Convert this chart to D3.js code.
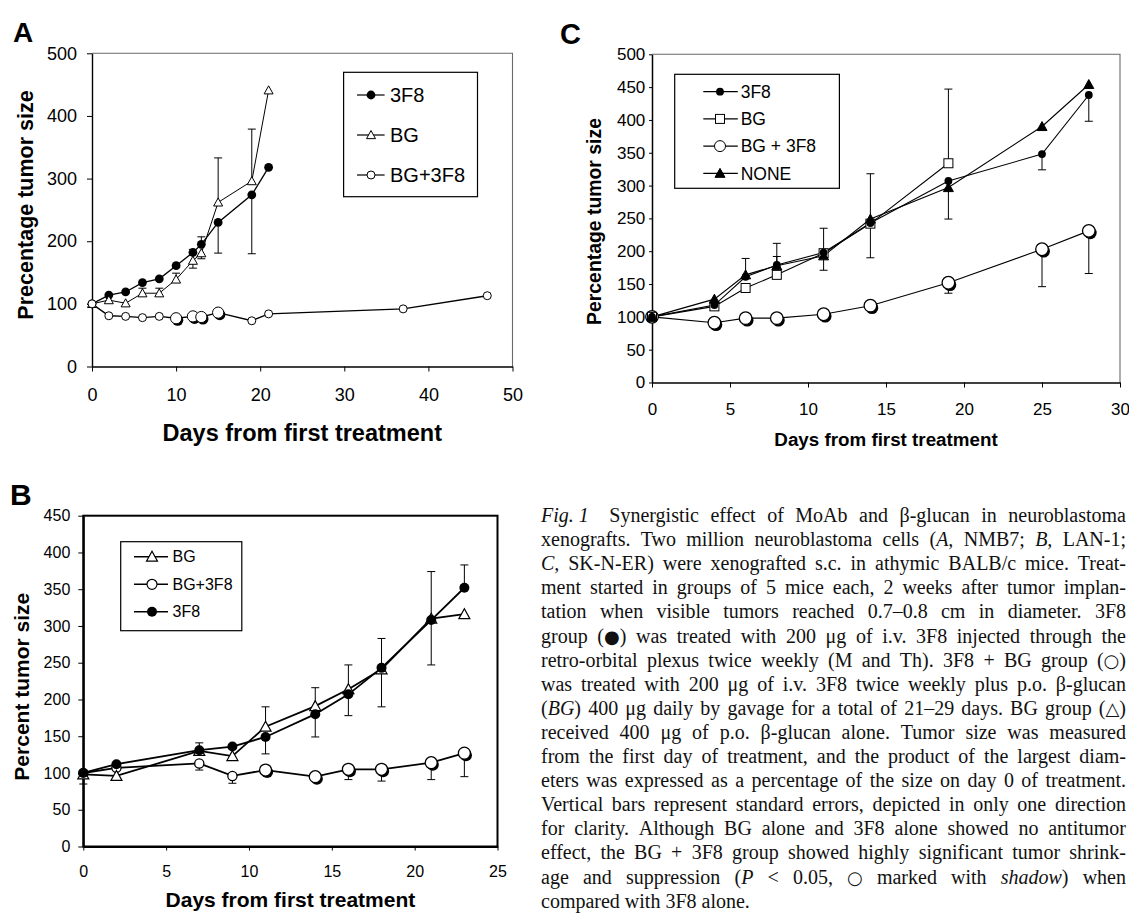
<!DOCTYPE html>
<html><head><meta charset="utf-8">
<script src="https://cdn.jsdelivr.net/npm/d3@7"></script>
<style>body{margin:0;background:#fff}svg{display:block}</style>
</head><body>
<svg id="fig" width="1129" height="913"></svg>
<script>
// ---------------- DATA ----------------
// Panel A (NMB7)
const xTicksA = [0, 10, 20, 30, 40, 50];
const yTicksA = [0, 100, 200, 300, 400, 500];
const daysA = [0, 2, 4, 6, 8, 10, 12, 13, 15, 19, 21];
const a3F8 = [100, 114, 119, 134, 140, 161, 182, 195, 230, 274, 318];
const a3F8Err = [null, null, null, null, null, null, 187, 207, 181, 180, null];
const aBG = [100, 106, 101, 117, 117, 139, 169, 181, 262, 296, 441];
const aBGErr = [null, null, null, 125, 125, 149, 157, 172, 333, 379, null];
const daysAcombo = [0, 2, 4, 6, 8, 10, 12, 13, 15, 19, 21, 37, 47];
const aCombo = [100, 81, 80, 78, 80, 77, 80, 79, 86, 73, 84, 92, 113];
const aComboShadow = [0, 0, 0, 0, 0, 1, 1, 1, 1, 0, 0, 0, 0];

// Panel B (LAN-1)
const xTicksB = [0, 5, 10, 15, 20, 25];
const yTicksB = [0, 50, 100, 150, 200, 250, 300, 350, 400, 450];
const daysB = [0, 2, 7, 9, 11, 14, 16, 18, 21, 23];
const bBG = [98, 96, 130, 123, 163, 191, 214, 241, 310, 316];
const bBGErr = [85, null, null, null, 190, 216, 247, 283, 374, null];
const b3F8 = [100, 112, 131, 136, 149, 180, 207, 243, 308, 352];
const b3F8Err = [null, null, 141, null, 126, 149, 178, 190, 247, 383];
const bCombo = [100, 107, 113, 96, 104, 95, 105, 105, 114, 127];
const bComboErr = [null, null, 104, 86, null, null, 91, 89, 91, 95];
const bComboShadow = [0, 0, 0, 0, 1, 1, 1, 1, 1, 1];

// Panel C (SK-N-ER)
const xTicksC = [0, 5, 10, 15, 20, 25, 30];
const yTicksC = [0, 50, 100, 150, 200, 250, 300, 350, 400, 450, 500];
const daysC = [0, 4, 6, 8, 11, 14, 19, 25, 28];
const c3F8 = [100, 118, 161, 179, 198, 243, 307, 348, 438];
const c3F8Err = [null, null, null, 192, 235, 318, 249, 324, 398];
const daysCBG = [0, 4, 6, 8, 11, 14, 19];
const cBG = [100, 116, 144, 164, 197, 242, 334];
const cBGErr = [null, null, null, null, 171, 190, 447];
const cCombo = [100, 91, 98, 98, 104, 117, 152, 203, 231];
const cComboErr = [null, null, null, null, null, null, 136, 146, 166];
const cComboShadow = [0, 1, 1, 1, 1, 1, 1, 1, 1];
const cNone = [100, 127, 164, 178, 193, 249, 297, 390, 454];
const cNoneErr = [null, null, 189, 212, null, null, null, null, null];

// Caption
const captionLines = [
  "*Fig.\u00a01*  Synergistic effect of MoAb and β-glucan in neuroblastoma",
  "xenografts. Two million neuroblastoma cells (*A,* NMB7; *B,* LAN-1;",
  "*C,* SK-N-ER) were xenografted s.c. in athymic BALB/c mice. Treat-",
  "ment started in groups of 5 mice each, 2 weeks after tumor implan-",
  "tation when visible tumors reached 0.7–0.8 cm in diameter. 3F8",
  "group (●) was treated with 200 μg of i.v. 3F8 injected through the",
  "retro-orbital plexus twice weekly (M and Th). 3F8 + BG group (○)",
  "was treated with 200 μg of i.v. 3F8 twice weekly plus p.o. β-glucan",
  "(*BG*) 400 μg daily by gavage for a total of 21–29 days. BG group (△)",
  "received 400 μg of p.o. β-glucan alone. Tumor size was measured",
  "from the first day of treatment, and the product of the largest diam-",
  "eters was expressed as a percentage of the size on day 0 of treatment.",
  "Vertical bars represent standard errors, depicted in only one direction",
  "for clarity. Although BG alone and 3F8 alone showed no antitumor",
  "effect, the BG + 3F8 group showed highly significant tumor shrink-",
  "age and suppression (*P* < 0.05, ○ marked with *shadow*) when",
  "compared with 3F8 alone."
];

// ---------------- DRAWING ----------------
const SANS = '"Liberation Sans", Arial, sans-serif';
const SERIF = '"Liberation Serif", "Times New Roman", serif';
const SYM = '"DejaVu Sans", sans-serif';
const svg = d3.select('#fig');
svg.append('rect').attr('width', 1129).attr('height', 913).attr('fill', '#fff');

function makePanel(p) {
  const g = svg.append('g');
  const x = d3.scaleLinear().domain(p.xDomain).range([p.left, p.right]);
  const y = d3.scaleLinear().domain(p.yDomain).range([p.bottom, p.top]);
  if (p.frame === 'gray') {
    g.append('path').attr('d', `M${p.left},${p.top}H${p.right}V${p.bottom}`)
      .attr('fill', 'none').attr('stroke', '#6a6a6a').attr('stroke-width', 1.1);
  } else {
    g.append('rect').attr('x', p.left).attr('y', p.top)
      .attr('width', p.right - p.left).attr('height', p.bottom - p.top)
      .attr('fill', 'none').attr('stroke', '#000').attr('stroke-width', 2);
  }
  const xa = g.append('g').attr('transform', `translate(0,${p.bottom})`)
    .call(d3.axisBottom(x).tickValues(p.xTicks).tickFormat(d3.format('d'))
      .tickSize(p.xTickSize).tickSizeOuter(0).tickPadding(p.xPad));
  const ya = g.append('g').attr('transform', `translate(${p.left},0)`)
    .call(d3.axisLeft(y).tickValues(p.yTicks).tickFormat(d3.format('d'))
      .tickSize(p.yTickSize).tickSizeOuter(0).tickPadding(p.yPad));
  [xa, ya].forEach(a => {
    a.attr('font-family', SANS).attr('font-size', p.tickFont);
    a.selectAll('text').attr('fill', '#000');
    a.select('.domain').attr('stroke', '#000').attr('stroke-width', p.axisW);
    a.selectAll('.tick line').attr('stroke', '#000').attr('stroke-width', 1);
  });
  g.append('text').attr('x', (p.left + p.right) / 2).attr('y', p.xTitleY).attr('dy', '0.35em')
    .attr('text-anchor', 'middle').attr('font-family', SANS).attr('font-weight', 'bold')
    .attr('font-size', p.xTitleSize).text(p.xTitle);
  g.append('text').attr('transform', `translate(${p.yTitleX},${p.yTitleY}) rotate(-90)`)
    .attr('dy', '0.35em').attr('text-anchor', 'middle').attr('font-family', SANS)
    .attr('font-weight', 'bold').attr('font-size', p.yTitleSize).text(p.yTitle);
  svg.append('text').attr('x', p.labelX).attr('y', p.labelY).attr('font-family', SANS)
    .attr('font-weight', 'bold').attr('font-size', p.labelSize).text(p.label);
  return { g, x, y };
}

function marker(g, type, cx, cy, sz, shadow, sw) {
  if (type === 'dot') {
    g.append('circle').attr('cx', cx).attr('cy', cy).attr('r', sz).attr('fill', '#000');
  } else if (type === 'ring') {
    if (shadow) {
      g.append('circle').attr('cx', cx + 1.6).attr('cy', cy + 2).attr('r', sz).attr('fill', '#000');
    }
    g.append('circle').attr('cx', cx).attr('cy', cy).attr('r', sz).attr('fill', '#fff')
      .attr('stroke', '#000').attr('stroke-width', sw);
  } else if (type === 'tri' || type === 'triF') {
    const h = sz * 0.9;
    const pts = [[cx, cy - h * 0.55], [cx - sz / 2, cy + h * 0.45], [cx + sz / 2, cy + h * 0.45]];
    g.append('path').attr('d', 'M' + pts.map(p => p.join(',')).join('L') + 'Z')
      .attr('fill', type === 'triF' ? '#000' : '#fff').attr('stroke', '#000').attr('stroke-width', sw);
  } else if (type === 'sq') {
    g.append('rect').attr('x', cx - sz / 2).attr('y', cy - sz / 2).attr('width', sz).attr('height', sz)
      .attr('fill', '#fff').attr('stroke', '#000').attr('stroke-width', sw);
  }
}

function drawSeries(P, list, capW) {
  const { g, x, y } = P;
  const line = d3.line().x(d => x(d.d)).y(d => y(d.v));
  const prepared = list.map(s => s.days.map((d, i) => ({
    d, v: s.vals[i], e: s.errs ? s.errs[i] : null, sh: s.shadow ? s.shadow[i] : 0
  })));
  list.forEach((s, k) => {
    g.append('path').datum(prepared[k]).attr('d', line).attr('fill', 'none')
      .attr('stroke', '#000').attr('stroke-width', s.lw);
  });
  list.forEach((s, k) => {
    prepared[k].filter(p => p.e !== null && p.e !== undefined).forEach(p => {
      g.append('line').attr('x1', x(p.d)).attr('x2', x(p.d)).attr('y1', y(p.v)).attr('y2', y(p.e))
        .attr('stroke', '#000').attr('stroke-width', 1);
      g.append('line').attr('x1', x(p.d) - capW / 2).attr('x2', x(p.d) + capW / 2)
        .attr('y1', y(p.e)).attr('y2', y(p.e)).attr('stroke', '#000').attr('stroke-width', 1);
    });
  });
  list.forEach((s, k) => {
    prepared[k].forEach(p => {
      const sz = p.sh ? s.shadowSize : s.size;
      marker(g, s.marker, x(p.d), y(p.v), sz, p.sh, s.sw);
    });
  });
}

function legend(L) {
  const g = svg.append('g');
  g.append('rect').attr('x', L.x0).attr('y', L.y0).attr('width', L.x1 - L.x0).attr('height', L.y1 - L.y0)
    .attr('fill', '#fff').attr('stroke', '#000').attr('stroke-width', 1.2);
  L.entries.forEach((e, i) => {
    const yy = L.ys[i];
    g.append('line').attr('x1', L.lx0).attr('x2', L.lx1).attr('y1', yy).attr('y2', yy)
      .attr('stroke', '#000').attr('stroke-width', e.lw || 1.2);
    marker(g, e.marker, L.mx, yy, e.size, false, e.sw || 1);
    g.append('text').attr('x', L.tx).attr('y', yy).attr('dy', '0.36em').attr('font-family', SANS)
      .attr('font-size', L.font).text(e.label);
  });
}

// ---- Panel A ----
const PA = makePanel({
  xDomain: [0, 50], yDomain: [0, 500], left: 92, right: 512.5, top: 53.3, bottom: 366.5,
  frame: 'gray', xTicks: xTicksA, yTicks: yTicksA, xTickSize: 5, xPad: 17, yTickSize: 5, yPad: 10,
  tickFont: 18, axisW: 1.4, xTitle: 'Days from first treatment', xTitleY: 432.7, xTitleSize: 23.5,
  yTitle: 'Precentage tumor size', yTitleX: 25.5, yTitleY: 205, yTitleSize: 21.5,
  label: 'A', labelX: 13, labelY: 42, labelSize: 28
});
drawSeries(PA, [
  { days: daysA, vals: a3F8, errs: a3F8Err, marker: 'dot', size: 4.4, lw: 1.3, sw: 1 },
  { days: daysA, vals: aBG, errs: aBGErr, marker: 'tri', size: 9, lw: 1, sw: 1 },
  { days: daysAcombo, vals: aCombo, shadow: aComboShadow, marker: 'ring', size: 4, shadowSize: 5.6, lw: 1.4, sw: 1 }
], 8);
legend({
  x0: 343.6, x1: 477.5, y0: 72.3, y1: 196.7, lx0: 357, lx1: 384.6, mx: 371, tx: 390, font: 20,
  ys: [95, 135, 175],
  entries: [
    { label: '3F8', marker: 'dot', size: 4.4 },
    { label: 'BG', marker: 'tri', size: 9 },
    { label: 'BG+3F8', marker: 'ring', size: 4 }
  ]
});

// ---- Panel B ----
const PB = makePanel({
  xDomain: [0, 25], yDomain: [0, 450], left: 83.3, right: 497.5, top: 515.7, bottom: 846.5,
  frame: 'black', xTicks: xTicksB, yTicks: yTicksB, xTickSize: 4, xPad: 15.5, yTickSize: 5, yPad: 8,
  tickFont: 16, axisW: 2, xTitle: 'Days from first treatment', xTitleY: 900, xTitleSize: 21,
  yTitle: 'Percent tumor size', yTitleX: 22, yTitleY: 686.7, yTitleSize: 21,
  label: 'B', labelX: 10, labelY: 505, labelSize: 30
});
drawSeries(PB, [
  { days: daysB, vals: bCombo, errs: bComboErr, shadow: bComboShadow, marker: 'ring', size: 4.6, shadowSize: 6, lw: 1.8, sw: 1.3 },
  { days: daysB, vals: bBG, errs: bBGErr, marker: 'tri', size: 11, lw: 1.8, sw: 1.2 },
  { days: daysB, vals: b3F8, errs: b3F8Err, marker: 'dot', size: 5, lw: 1.8, sw: 1 }
], 8);
legend({
  x0: 120.7, x1: 241.8, y0: 541.7, y1: 630.7, lx0: 134, lx1: 168, mx: 152, tx: 172.5, font: 16,
  ys: [556.7, 584.3, 611.7],
  entries: [
    { label: 'BG', marker: 'tri', size: 11, lw: 1.6, sw: 1.2 },
    { label: 'BG+3F8', marker: 'ring', size: 5, lw: 1.6, sw: 1.2 },
    { label: '3F8', marker: 'dot', size: 5, lw: 1.6 }
  ]
});

// ---- Panel C ----
const PC = makePanel({
  xDomain: [0, 30], yDomain: [0, 500], left: 652, right: 1120, top: 54.3, bottom: 382.5,
  frame: 'gray', xTicks: xTicksC, yTicks: yTicksC, xTickSize: 5, xPad: 15, yTickSize: 3, yPad: 3.7,
  tickFont: 17, axisW: 1.5, xTitle: 'Days from first treatment', xTitleY: 439.3, xTitleSize: 18.8,
  yTitle: 'Percentage tumor size', yTitleX: 594.6, yTitleY: 221.5, yTitleSize: 19.4,
  label: 'C', labelX: 560, labelY: 44, labelSize: 29
});
drawSeries(PC, [
  { days: daysC, vals: cCombo, errs: cComboErr, shadow: cComboShadow, marker: 'ring', size: 6.3, shadowSize: 6.3, lw: 1.1, sw: 1.3 },
  { days: daysCBG, vals: cBG, errs: cBGErr, marker: 'sq', size: 9, lw: 1.1, sw: 1 },
  { days: daysC, vals: c3F8, errs: c3F8Err, marker: 'dot', size: 3.9, lw: 1.1, sw: 1 },
  { days: daysC, vals: cNone, errs: cNoneErr, marker: 'triF', size: 10, lw: 1.1, sw: 1 }
], 8);
legend({
  x0: 674.7, x1: 839.4, y0: 74.3, y1: 188.3, lx0: 703.3, lx1: 737.8, mx: 720, tx: 740.7, font: 17.5,
  ys: [91.7, 118.9, 146.1, 173.3],
  entries: [
    { label: '3F8', marker: 'dot', size: 3.9 },
    { label: 'BG', marker: 'sq', size: 9 },
    { label: 'BG + 3F8', marker: 'ring', size: 5.5 },
    { label: 'NONE', marker: 'triF', size: 10 }
  ]
});

// ---- Caption (justified) ----
const SYMBOLS = '●○△';
function parseWords(line) {
  const words = []; let it = false; let cur = []; let seg = '';
  const flush = () => { if (seg) cur.push({ t: seg, it, sym: false }); seg = ''; };
  for (const ch of line) {
    if (ch === '*') { flush(); it = !it; }
    else if (ch === ' ') { flush(); if (cur.length) words.push(cur); cur = []; }
    else if (SYMBOLS.includes(ch)) { flush(); cur.push({ t: ch, it: false, sym: true }); }
    else seg += ch;
  }
  flush();
  if (cur.length) words.push(cur);
  return words;
}
function styleSeg(ts, s) {
  ts.attr('font-style', s.it ? 'italic' : 'normal');
  if (s.sym) ts.attr('font-family', SYM).attr('font-size', 18);
  return ts;
}
const capX = 541, capW = 585, capY0 = 522, capDY = 24.1, capFont = 20;
const meas = svg.append('text').attr('font-family', SERIF).attr('font-size', capFont).attr('visibility', 'hidden');
function wordWidth(w) {
  meas.selectAll('*').remove();
  w.forEach(s => styleSeg(meas.append('tspan'), s).text(s.t));
  return meas.node().getComputedTextLength();
}
const capG = svg.append('g');
captionLines.forEach((line, li) => {
  const words = parseWords(line);
  const widths = words.map(wordWidth);
  const total = d3.sum(widths);
  const extra = li === 0 ? 9 : 0;
  const last = li === captionLines.length - 1;
  const gap = last ? capFont * 0.25 : (capW - total - extra) / (words.length - 1);
  const t = capG.append('text').attr('y', capY0 + li * capDY).attr('font-family', SERIF)
    .attr('font-size', capFont).attr('fill', '#111');
  let xx = capX;
  words.forEach((w, wi) => {
    w.forEach((s, si) => {
      const ts = styleSeg(t.append('tspan'), s).text(s.t);
      if (si === 0) ts.attr('x', xx);
    });
    xx += widths[wi] + gap + (wi === 0 ? extra : 0);
  });
});
meas.remove();
</script>
</body></html>
